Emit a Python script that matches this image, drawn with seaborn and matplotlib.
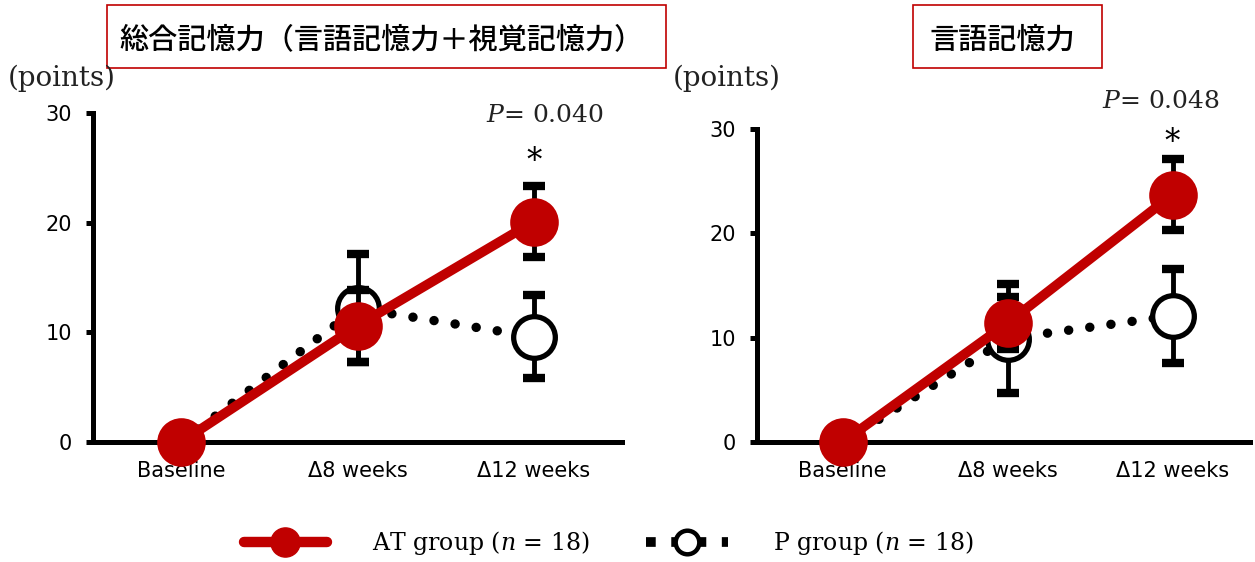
import numpy as np
import pandas as pd
import matplotlib
matplotlib.use('Agg')
import matplotlib.pyplot as plt
import seaborn as sns
from matplotlib.lines import Line2D
from matplotlib.patches import Rectangle

# values
timepoints = ['Baseline', 'Δ8 weeks', 'Δ12 weeks']
total_at_mean = [0, 10.6, 20.1]
total_at_err = [0, 3.3, 3.2]
total_p_mean = [0, 12.2, 9.6]
total_p_err = [0, 4.9, 3.8]
verbal_at_mean = [0, 11.4, 23.7]
verbal_at_err = [0, 2.5, 3.4]
verbal_p_mean = [0, 9.9, 12.1]
verbal_p_err = [0, 5.2, 4.5]
panel_titles = ['総合記憶力（言語記憶力＋視覚記憶力）', '言語記憶力']
p_values = ['0.040', '0.048']
y_ticks = [0, 10, 20, 30]

RED = '#C00000'

sns.set_style('white')
plt.rcParams['font.family'] = ['DejaVu Sans']
plt.rcParams['mathtext.fontset'] = 'dejavuserif'
plt.rcParams['text.color'] = 'black'
plt.rcParams['xtick.color'] = 'black'
plt.rcParams['ytick.color'] = 'black'


def draw_panel(ax, at_mean, at_err, p_mean, p_err, xlim):
    x = np.arange(len(timepoints))
    df = pd.DataFrame({'x': x, 'at': at_mean, 'p': p_mean})

    # error bars (skip baseline, which has none)
    p_idx = [i for i in x if p_err[i] > 0]
    at_idx = [i for i in x if at_err[i] > 0]
    ax.errorbar(p_idx, [p_mean[i] for i in p_idx], yerr=[p_err[i] for i in p_idx],
                fmt='none', ecolor='black', elinewidth=3.5, capsize=8, capthick=6,
                zorder=2, clip_on=False)

    # P group: dotted black line, open circles
    sns.lineplot(data=df, x='x', y='p', ax=ax, color='black', lw=6.8,
                 linestyle=(0, (0.01, 2.25)), dash_capstyle='round',
                 marker='o', markersize=30, markerfacecolor='white',
                 markeredgecolor='black', markeredgewidth=3.8,
                 zorder=3, clip_on=False)

    ax.errorbar(at_idx, [at_mean[i] for i in at_idx], yerr=[at_err[i] for i in at_idx],
                fmt='none', ecolor='black', elinewidth=3.5, capsize=8, capthick=6,
                zorder=4, clip_on=False)

    # AT group: solid red line, filled circles
    sns.lineplot(data=df, x='x', y='at', ax=ax, color=RED, lw=7,
                 marker='o', markersize=35, markerfacecolor=RED,
                 markeredgecolor=RED, markeredgewidth=0,
                 zorder=5, clip_on=False)

    ax.set_xlim(*xlim)
    ax.set_ylim(0, 30)
    ax.set_xticks(x)
    ax.set_xticklabels(timepoints)
    ax.set_yticks(y_ticks)
    ax.set_xlabel('')
    ax.set_ylabel('')
    for side in ['top', 'right']:
        ax.spines[side].set_visible(False)
    for side in ['left', 'bottom']:
        ax.spines[side].set_linewidth(3.6)
        ax.spines[side].set_color('black')
    ax.tick_params(axis='y', direction='out', length=5, width=3.6, pad=10,
                   labelsize=15, left=True, colors='black')
    ax.tick_params(axis='x', length=0, pad=14, labelsize=15, colors='black')


fig = plt.figure(figsize=(12.55, 5.62), dpi=100)

ax1 = fig.add_axes([93 / 1255, 1 - 442 / 562, (622 - 93) / 1255, (442 - 113) / 562])
ax2 = fig.add_axes([757 / 1255, 1 - 442 / 562, (1250 - 757) / 1255, (442 - 129) / 562])

draw_panel(ax1, total_at_mean, total_at_err, total_p_mean, total_p_err, (-0.5, 2.5))
draw_panel(ax2, verbal_at_mean, verbal_at_err, verbal_p_mean, verbal_p_err, (-0.52, 2.47))

# P values and significance stars
ax1.text(2.4, 29.8, r'$P$= ' + p_values[0], ha='right', va='center',
         fontsize=18, family='DejaVu Serif', color='#222222', clip_on=False)
ax1.text(2.0, 25.6, '*', ha='center', va='center', fontsize=22,
         family='DejaVu Serif', clip_on=False)
ax2.text(2.29, 32.6, r'$P$= ' + p_values[1], ha='right', va='center',
         fontsize=18, family='DejaVu Serif', color='#222222', clip_on=False)
ax2.text(2.0, 28.7, '*', ha='center', va='center', fontsize=22,
         family='DejaVu Serif', clip_on=False)

# y unit labels
fig.text(8 / 1255, 1 - 78 / 562, '(points)', ha='left', va='center',
         fontsize=20, family='DejaVu Serif', color='#222222')
fig.text(673 / 1255, 1 - 78 / 562, '(points)', ha='left', va='center',
         fontsize=20, family='DejaVu Serif', color='#222222')

# titles in red-bordered boxes
boxes = [(107, 5, 666, 68), (913, 5, 1102, 68)]
for (x0, y0, x1, y1), title in zip(boxes, panel_titles):
    fig.patches.append(Rectangle((x0 / 1255, 1 - y1 / 562), (x1 - x0) / 1255, (y1 - y0) / 562,
                                 transform=fig.transFigure, facecolor='white',
                                 edgecolor=RED, lw=1.2))
    fig.text((x0 + x1) / 2 / 1255 - 0.004, 1 - 40 / 562, title, ha='center', va='center',
             fontsize=21, family=['Noto Sans CJK JP', 'DejaVu Sans'], fontweight='medium')

# legend
handles = [
    Line2D([], [], color=RED, lw=7.5, marker='o', markersize=21,
           markerfacecolor=RED, markeredgecolor=RED),
    Line2D([], [], color='black', lw=7, linestyle=(0, (1, 1.6)),
           marker='o', markersize=17, markerfacecolor='white',
           markeredgecolor='black', markeredgewidth=3.2),
]
labels = [r'AT group ($n$ = 18)', r'P group ($n$ = 18)']
fig.legend(handles, labels, loc='center', ncol=2,
           bbox_to_anchor=(609 / 1255, 1 - 543 / 562), frameon=False,
           handlelength=3.5, handletextpad=1.9, columnspacing=2.4,
           prop={'family': 'DejaVu Serif', 'size': 17})

fig.savefig('out.png', dpi=100)
plt.close(fig)
